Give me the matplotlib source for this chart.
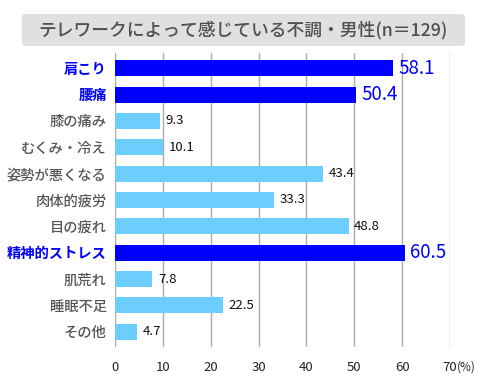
import matplotlib
matplotlib.use("Agg")
import matplotlib.pyplot as plt
from matplotlib.patches import FancyBboxPatch

plt.rcParams['font.family'] = ['Noto Sans CJK JP', 'DejaVu Sans']

title = "テレワークによって感じている不調・男性(n＝129)"
categories = ["肩こり", "腰痛", "膝の痛み", "むくみ・冷え", "姿勢が悪くなる", "肉体的疲労",
              "目の疲れ", "精神的ストレス", "肌荒れ", "睡眠不足", "その他"]
values = [58.1, 50.4, 9.3, 10.1, 43.4, 33.3, 48.8, 60.5, 7.8, 22.5, 4.7]
highlight = [True, True, False, False, False, False, False, True, False, False, False]
xticks = [0, 10, 20, 30, 40, 50, 60, 70]

W, H = 485, 390
fig = plt.figure(figsize=(W / 100, H / 100), dpi=100)
fig.patch.set_facecolor("white")

# title box
box = FancyBboxPatch((22 / W, 1 - 46 / H), 443 / W, 32 / H,
                     boxstyle="round,pad=0,rounding_size=0.008",
                     transform=fig.transFigure, facecolor="#e0e0e0",
                     edgecolor="none")
fig.patches.append(box)
fig.text(243 / W, 1 - 30 / H, title, ha="center", va="center",
         fontsize=12.8, color="#505050", fontweight="medium")

ax = fig.add_axes([115 / W, 1 - 347 / H, 335 / W, 294 / H])
y = list(range(len(categories)))
colors = ["#0000ff" if h else "#6ccdff" for h in highlight]
ax.barh(y, values, height=0.6, color=colors, zorder=3)
ax.set_xlim(0, 70)
ax.set_ylim(10.58, -0.58)
ax.set_xticks(xticks)
ax.set_xticklabels([str(t) for t in xticks])
ax.grid(axis="x", color="#aaaaaa", linewidth=1, zorder=0)
ax.set_axisbelow(True)
for s in ax.spines.values():
    s.set_visible(False)
ax.tick_params(axis="x", length=0, pad=10, labelsize=9.5, labelcolor="#222222")
ax.tick_params(axis="y", length=0, pad=6)
ax.set_yticks(y)
ax.set_yticklabels(categories)
for lbl, h in zip(ax.get_yticklabels(), highlight):
    lbl.set_fontsize(10.3)
    if h:
        lbl.set_color("#0000ff")
        lbl.set_fontweight("bold")
    else:
        lbl.set_color("#555555")
        lbl.set_fontweight("medium")

ax.annotate("(%)", xy=(70, 0), xycoords=("data", "axes fraction"),
            xytext=(5, -10), textcoords="offset points", ha="left", va="top",
            fontsize=8.5, color="#222222")

for yi, v, h in zip(y, values, highlight):
    if h:
        ax.annotate(f"{v}", xy=(v, yi), xytext=(4, 0), textcoords="offset points",
                    ha="left", va="center", fontsize=13.5, color="#0000ff")
    else:
        ax.annotate(f"{v}", xy=(v, yi), xytext=(4, 0), textcoords="offset points",
                    ha="left", va="center", fontsize=9.5, color="#111111")

fig.savefig("out.png", dpi=100)
